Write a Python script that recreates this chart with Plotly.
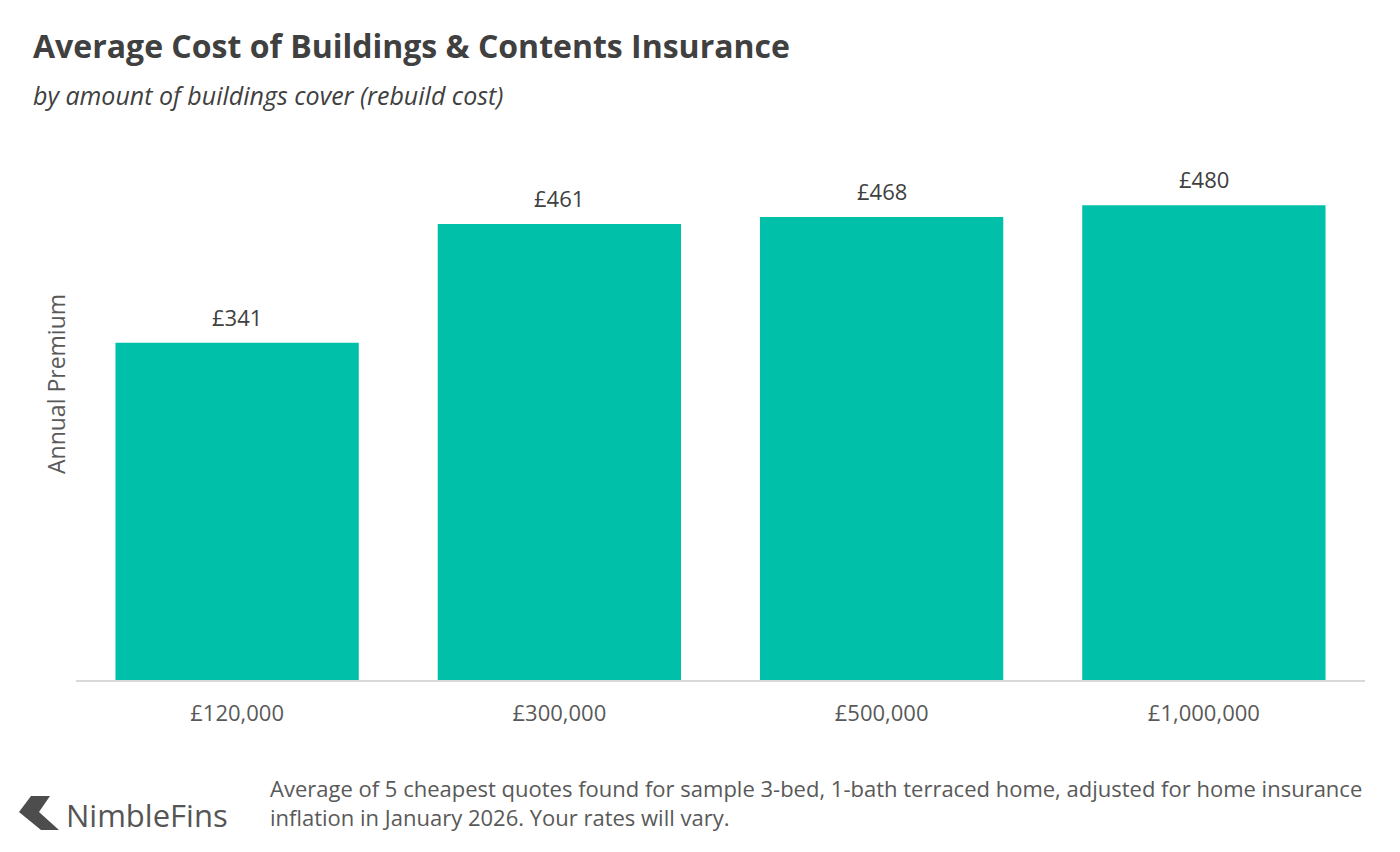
import plotly.graph_objects as go

categories = ["£120,000", "£300,000", "£500,000", "£1,000,000"]
premiums = [341, 461, 468, 480]
value_labels = ["£341", "£461", "£468", "£480"]

W, H = 1400, 852
L, R, T, B = 76, 35, 130, 172
PW, PH = W - L - R, H - T - B

def px(x):
    return (x - L) / PW

def py(y):
    return (T + PH - y) / PH

FONT = "Open Sans, Calibri, sans-serif"
BAR = "#00C0A9"

fig = go.Figure(go.Bar(
    x=categories, y=premiums,
    marker=dict(color=BAR, line=dict(width=0)),
    cliponaxis=False, hoverinfo="skip",
))

for c, v, t in zip(categories, premiums, value_labels):
    fig.add_annotation(
        x=c, y=v, text=t, xref="x", yref="y", showarrow=False,
        yanchor="middle", yshift=26,
        font=dict(family=FONT, size=22, color="#404040"),
    )

fig.update_layout(
    width=W, height=H,
    margin=dict(l=L, r=R, t=T, b=B),
    paper_bgcolor="white", plot_bgcolor="white",
    bargap=0.245,
    showlegend=False,
    font=dict(family=FONT, color="#595959"),
    xaxis=dict(
        showline=True, linecolor="#d9d9d9", linewidth=2,
        tickfont=dict(family=FONT, size=22, color="#595959"),
        ticks="", ticklen=0, showgrid=False, ticklabelstandoff=13,
    ),
    yaxis=dict(
        range=[0, 556], showticklabels=False, showgrid=False,
        zeroline=False, showline=False, ticks="",
    ),
)

fig.add_annotation(
    text="Annual Premium", textangle=-90,
    xref="paper", yref="paper", x=px(56), y=py(384), xanchor="center", yanchor="middle",
    showarrow=False, font=dict(family=FONT, size=23, color="#595959"),
)
fig.add_annotation(
    text="<b>Average Cost of Buildings & Contents Insurance</b>",
    xref="paper", yref="paper", x=px(31), y=py(46), xanchor="left", yanchor="middle",
    showarrow=False, font=dict(family=FONT, size=32, color="#404040"),
)
fig.add_annotation(
    text="<i>by amount of buildings cover (rebuild cost)</i>",
    xref="paper", yref="paper", x=px(31), y=py(95), xanchor="left", yanchor="middle",
    showarrow=False, font=dict(family=FONT, size=25, color="#404040"),
)
fig.add_annotation(
    text="Average of 5 cheapest quotes found for sample 3-bed, 1-bath terraced home, adjusted for home insurance<br>inflation in January 2026. Your rates will vary.",
    xref="paper", yref="paper", x=px(268), y=py(802), xanchor="left", yanchor="middle",
    align="left", showarrow=False, font=dict(family=FONT, size=22, color="#595959"),
)
fig.add_annotation(
    text="NimbleFins",
    xref="paper", yref="paper", x=px(64), y=py(815), xanchor="left", yanchor="middle",
    showarrow=False, font=dict(family=FONT, size=31, color="#555555"),
)

pts = [(31, 796), (50, 796), (39, 812), (59, 830), (41, 830), (19, 812)]
path = "M " + " L ".join(f"{px(x)},{py(y)}" for x, y in pts) + " Z"
fig.add_shape(type="path", xref="paper", yref="paper", path=path,
              fillcolor="#4d4d4d", line=dict(width=0))

fig.write_html("out.html")
